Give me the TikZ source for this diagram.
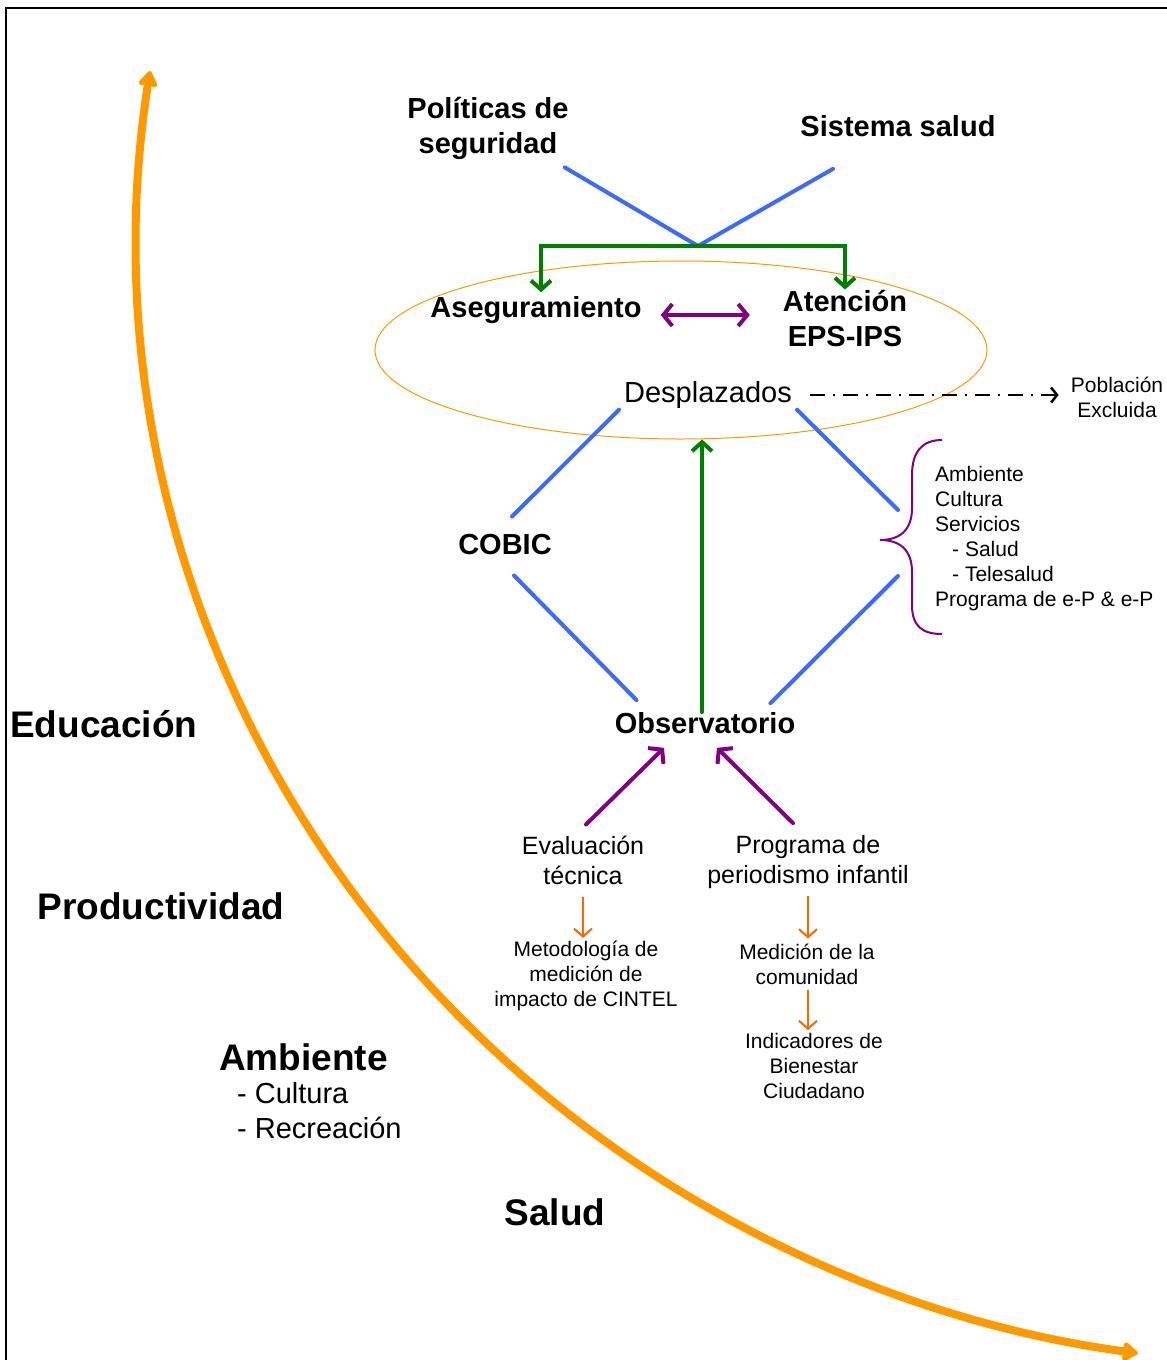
\documentclass[tikz,border=0pt]{standalone}
\usepackage{fontspec}
\setmainfont{Liberation Sans}
\usetikzlibrary{shapes.geometric,arrows.meta,positioning}
\definecolor{linkblue}{RGB}{60,105,255}
\definecolor{flowgreen}{RGB}{0,128,0}
\definecolor{linkpurple}{RGB}{128,0,128}
\definecolor{arcorange}{RGB}{255,153,0}
\definecolor{stepred}{RGB}{255,102,0}
\newcommand{\fsz}[2]{\fontsize{#1}{#2}\selectfont}

\begin{document}
\begin{tikzpicture}[x=1pt, y=-1pt, inner sep=0pt]
    \tikzstyle{textbig} = [font=\fsz{37}{44}\bfseries]
    \tikzstyle{texthead} = [font=\fsz{29}{35}\bfseries, align=center]
    \tikzstyle{textplain} = [font=\fsz{29}{35}, align=center]
    \tikzstyle{textmid} = [font=\fsz{25}{30}, align=center]
    \tikzstyle{textsmall} = [font=\fsz{21}{25}, align=center]
    \tikzstyle{blueline} = [line width=4pt, linkblue, line cap=round]
    \tikzstyle{greenarrow} = [line width=4pt, flowgreen, line cap=round, ->, >={Straight Barb[length=9pt,width=20pt]}]
    \tikzstyle{purplearrow} = [line width=4pt, linkpurple, line cap=round, >={Straight Barb[length=9pt,width=22pt]}]
    \tikzstyle{steparrow} = [line width=2pt, stepred, ->, >={Straight Barb[length=8pt,width=18pt]}]
    \tikzstyle{exclarrow} = [line width=2.5pt, black, ->, >={Straight Barb[length=6pt,width=15pt]}, dash pattern=on 15pt off 8pt on 2pt off 8pt]

    \useasboundingbox (0,0) rectangle (1167,1360);
    \draw[line width=1.5pt] (6,1360) -- (6,8) -- (1167,8);

    % big arc
    \draw[line width=8pt, arcorange, {Triangle[width=21pt,length=17pt,round]}-{Triangle[width=21pt,length=17pt,round]}]
        (150,71) arc[start angle=188.6, end angle=98, x radius=1163, y radius=1125];

    % top
    \node (polit) [texthead] at (488,128) {Políticas de\\seguridad};
    \node (sist) [texthead] at (898,126) {Sistema salud};
    \coordinate (join) at (698,246);
    \draw[blueline] ([shift={(-4,8)}]polit.south east) -- (join);
    \draw[blueline] ([shift={(-65,32)}]sist.south) -- (join);

    \node (zona) [draw=arcorange, line width=1pt, ellipse, minimum width=612pt, minimum height=178pt] at (681,350) {};
    \node (aseg) [texthead] at (536,310) {Aseguramiento};
    \node (aten) [texthead] at (845,319) {Atención\\EPS-IPS};
    \node (desp) [textplain] at (708,395) {Desplazados};
    \node (pobl) [textsmall] at (1117,397) {Población\\Excluida};

    \draw[greenarrow, shorten >=4pt] (join) -| ([shift={(5,0)}]aseg.north);
    \draw[greenarrow, shorten >=1pt] (join) -| (aten.north);
    \draw[purplearrow, <->] ([shift={(19,5)}]aseg.east) -- ([shift={(-33,5)}]aseg.east -| aten.west);
    \draw[exclarrow, shorten <=18pt, shorten >=12pt] (desp.east) -- (desp.east -| pobl.west);

    % middle
    \node (cobic) [texthead] at (505,545) {COBIC};
    \node (obs) [texthead] at (705,723) {Observatorio};
    \node (lista) [textsmall, align=left, anchor=west] at (935,539) {Ambiente\\Cultura\\Servicios\\\hspace*{17pt}- Salud\\\hspace*{17pt}- Telesalud\\Programa de e-P \& e-P};
    \coordinate (brtop) at (898,510);
    \coordinate (brbot) at (898,576);
    \draw[linkpurple, line width=2pt] (942,440) .. controls (922,440) and (912,452) .. (912,475) -- (912,508)
        .. controls (912,530) and (900,540) .. (880,540) .. controls (900,540) and (912,550) .. (912,572)
        -- (912,605) .. controls (912,626) and (922,634) .. (942,634);

    \draw[blueline] ([shift={(-5,1)}]desp.south west) -- ([shift={(7,-18)}]cobic.north);
    \draw[blueline] ([shift={(5,1)}]desp.south east) -- (brtop);
    \draw[blueline] ([shift={(9,20)}]cobic.south) -- ([shift={(22,-12)}]obs.north west);
    \draw[blueline] (brbot) -- ([shift={(-25,-9)}]obs.north east);
    \draw[greenarrow] ([shift={(-3,0)}]obs.north) -- ([shift={(-3,0)}]obs.north |- zona.south);

    % bottom
    \node (eval) [textmid] at (583,860) {Evaluación\\técnica};
    \node (prog) [textmid] at (808,862) {Programa de\\periodismo infantil};
    \draw[purplearrow, ->] ([shift={(3,-11)}]eval.north) -- ([shift={(-41,14)}]obs.south);
    \draw[purplearrow, ->] ([shift={(-15,-12)}]prog.north) -- ([shift={(12,14)}]obs.south);

    \node (metod) [textsmall] at (586,976) {Metodología de\\medición de\\impacto de CINTEL};
    \node (medic) [textsmall] at (807,964) {Medición de la\\comunidad};
    \node (indic) [textsmall] at (814,1066) {Indicadores de\\Bienestar\\Ciudadano};
    \draw[steparrow, shorten <=12pt, shorten >=3pt] (eval.south) -- (eval.south |- metod.north);
    \draw[steparrow, shorten <=7pt, shorten >=5pt] (prog.south) -- (prog.south |- medic.north);
    \draw[steparrow, shorten <=5pt, shorten >=3pt] ([shift={(1,0)}]medic.south) -- ([shift={(1,0)}]medic.south |- indic.north);

    % left labels
    \node (educ) [textbig, anchor=west] at (10,724) {Educación};
    \node (prod) [textbig] at (161,906) {Productividad};
    \node (amb) [textbig, anchor=west] at (219,1057) {Ambiente};
    \node (ambsub) [textplain, align=left, anchor=west] at (237,1111) {- Cultura\\- Recreación};
    \node (salud) [textbig] at (555,1212) {Salud};
\end{tikzpicture}
\end{document}
